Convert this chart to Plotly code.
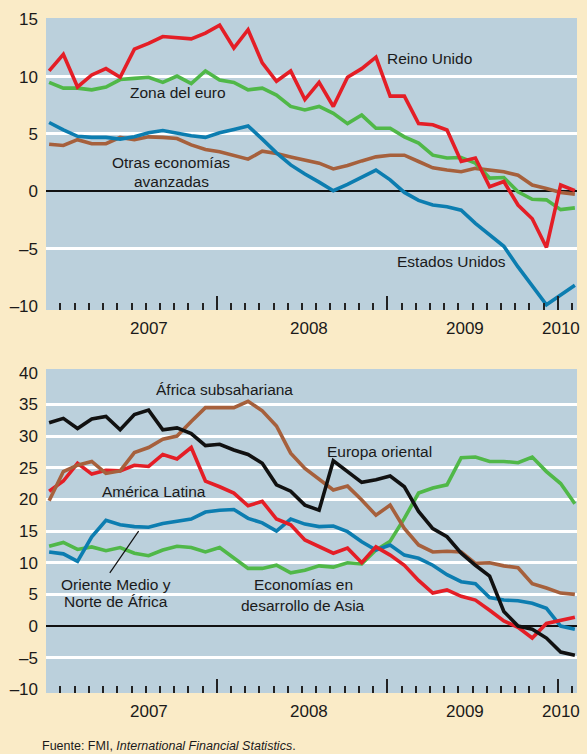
import plotly.graph_objects as go

# Monthly observations, Jan 2007 .. Feb 2010 (index 0..37)
months = list(range(38))

# --- Top panel: advanced economies ---
reino_unido = [10.5, 11.95, 9.1, 10.15, 10.7, 9.95, 12.4, 12.9, 13.5, 13.4, 13.3, 13.8,
               14.5, 12.5, 14.1, 11.2, 9.6, 10.5, 8.0, 9.5, 7.4, 9.95, 10.7, 11.7,
               8.3, 8.3, 5.9, 5.8, 5.35, 2.6, 2.9, 0.4, 0.85, -1.2, -2.4, -4.9, 0.55, 0.05]
zona_euro = [9.5, 9.0, 9.0, 8.85, 9.1, 9.75, 9.85, 9.95, 9.5, 10.05, 9.4, 10.5,
             9.7, 9.5, 8.85, 9.0, 8.4, 7.4, 7.1, 7.4, 6.8, 5.9, 6.65, 5.5,
             5.5, 4.75, 4.2, 3.15, 2.9, 2.95, 2.45, 1.15, 1.2, -0.05, -0.7, -0.75, -1.6, -1.45]
estados_unidos = [6.0, 5.35, 4.8, 4.7, 4.7, 4.55, 4.75, 5.1, 5.3, 5.05, 4.85, 4.7,
                  5.1, 5.4, 5.7, 4.55, 3.35, 2.3, 1.5, 0.8, 0.05, 0.6, 1.2, 1.85,
                  1.0, -0.1, -0.8, -1.2, -1.35, -1.65, -2.8, -3.8, -4.8, -6.6, -8.25, -9.9, -9.05, -8.2]
otras_avanzadas = [4.1, 4.0, 4.5, 4.15, 4.15, 4.7, 4.5, 4.75, 4.7, 4.6, 4.05, 3.65,
                   3.45, 3.1, 2.8, 3.5, 3.3, 3.0, 2.75, 2.45, 1.95, 2.25, 2.65, 3.0,
                   3.15, 3.15, 2.6, 2.05, 1.85, 1.7, 2.0, 1.85, 1.7, 1.4, 0.55, 0.25, -0.1, -0.25]

# --- Bottom panel: emerging economies ---
africa_subsahariana = [32.1, 32.8, 31.2, 32.7, 33.1, 31.0, 33.4, 34.1, 31.0, 31.3, 30.4, 28.5,
                       28.7, 27.8, 27.1, 25.7, 22.3, 21.3, 19.1, 18.3, 26.1, 24.4, 22.7, 23.1,
                       23.7, 22.0, 18.1, 15.4, 14.1, 11.5, 9.6, 7.9, 2.3, 0.0, -0.5, -1.9, -4.1, -4.6]
europa_oriental = [19.8, 24.4, 25.4, 26.0, 24.1, 24.5, 27.4, 28.2, 29.5, 30.0, 32.3, 34.5,
                   34.5, 34.5, 35.5, 34.0, 31.6, 27.3, 24.9, 23.2, 21.5, 22.1, 19.9, 17.5,
                   19.1, 15.4, 12.8, 11.7, 11.8, 11.7, 9.9, 10.0, 9.5, 9.2, 6.7, 6.0, 5.2, 5.0]
america_latina = [21.3, 22.9, 25.7, 24.0, 24.6, 24.5, 25.4, 25.2, 27.1, 26.4, 28.2, 22.9,
                  22.0, 21.0, 19.0, 19.7, 16.9, 16.0, 13.6, 12.5, 11.5, 12.3, 10.0, 12.5,
                  11.2, 9.6, 7.2, 5.2, 5.7, 4.7, 4.1, 2.5, 0.8, -0.2, -1.9, 0.4, 0.9, 1.4]
oriente_medio = [11.7, 11.4, 10.2, 14.1, 16.7, 16.0, 15.7, 15.6, 16.2, 16.5, 16.9, 18.0,
                 18.3, 18.4, 17.0, 16.3, 15.0, 16.9, 16.1, 15.7, 15.8, 14.9, 13.3, 12.0,
                 12.8, 11.2, 10.7, 9.6, 8.1, 7.0, 6.7, 4.5, 4.1, 4.0, 3.6, 2.8, 0.0, -0.5]
asia_desarrollo = [12.6, 13.2, 12.1, 12.5, 11.9, 12.4, 11.5, 11.1, 12.0, 12.6, 12.4, 11.7,
                   12.4, 10.7, 9.1, 9.1, 9.6, 8.4, 8.8, 9.5, 9.3, 10.0, 9.8, 12.0,
                   13.4, 17.0, 21.0, 21.8, 22.3, 26.6, 26.7, 26.0, 26.0, 25.8, 26.7, 24.4, 22.5, 19.3]

year_ticks = [-0.2, 11.8, 23.8, 35.8]
year_label_pos = [7.0, 18.3, 29.3, 36.0]
year_labels = ["2007", "2008", "2009", "2010"]

top_ticks = [-10, -5, 0, 5, 10, 15]
top_grid = [-5, 5, 10]
bot_ticks = [-10, -5, 0, 5, 10, 15, 20, 25, 30, 35, 40]
bot_grid = [-5, 5, 10, 15, 20, 25, 30, 35]

RED = "#E41E26"
GREEN = "#50B848"
BLUE = "#0C7DB0"
BROWN = "#A6603C"
BLACK = "#111111"
PAPER = "#FAEBC7"
PLOT = "#BBD0DC"
TXT = "#1a1a1a"
LABFONT = "Liberation Sans, Arial, sans-serif"
TICKFONT = "Liberation Sans, Arial, sans-serif"

fig = go.Figure()

def add(x, y, color, xa, ya):
    fig.add_trace(go.Scatter(x=x, y=y, mode="lines", line=dict(color=color, width=3.6),
                             xaxis=xa, yaxis=ya, showlegend=False, hoverinfo="skip"))

add(months, otras_avanzadas, BROWN, "x", "y")
add(months, estados_unidos, BLUE, "x", "y")
add(months, zona_euro, GREEN, "x", "y")
add(months, reino_unido, RED, "x", "y")

add(months, asia_desarrollo, GREEN, "x2", "y2")
add(months, oriente_medio, BLUE, "x2", "y2")
add(months, america_latina, RED, "x2", "y2")
add(months, europa_oriental, BROWN, "x2", "y2")
add(months, africa_subsahariana, BLACK, "x2", "y2")

H_BOT = 324
PLOT_H = 675
top_dom = [(PLOT_H - 310 + 18) / PLOT_H, 1.0]
bot_dom = [0.0, H_BOT / PLOT_H]

def xaxis(anchor):
    return dict(anchor=anchor, domain=[0, 1], range=[-0.22, 37.15], showgrid=False, zeroline=False,
                showline=False, tickmode="array", tickvals=year_ticks, ticks="inside", ticklen=14,
                tickwidth=1.8, tickcolor="#222", showticklabels=False,
                minor=dict(tick0=-0.2, dtick=1, ticks="inside", ticklen=7, tickwidth=2, tickcolor="#222"))

def yaxis(anchor, dom, rng, tv, grid):
    return dict(anchor=anchor, domain=dom, range=rng, tickmode="array", tickvals=tv,
                ticktext=[("\u2013" + str(-v)) if v < 0 else str(v) for v in tv],
                showgrid=False, zeroline=True, zerolinecolor="#111", zerolinewidth=1.5,
                ticks="", ticklabelstandoff=7, showline=False,
                tickfont=dict(family=TICKFONT, size=17, color=TXT),
                minor=dict(tickmode="array", tickvals=grid, showgrid=True, gridcolor="white",
                           gridwidth=2.5, ticks=""))

fig.update_layout(
    width=587, height=754,
    margin=dict(l=44, r=10, t=18, b=61),
    paper_bgcolor=PAPER, plot_bgcolor=PLOT,
    xaxis=xaxis("y"),
    yaxis=yaxis("x", top_dom, [-10.36, 15.12], top_ticks, top_grid),
    xaxis2=xaxis("y2"),
    yaxis2=yaxis("x2", bot_dom, [-10.58, 40.6], bot_ticks, bot_grid),
    showlegend=False,
)

anns = []
def lab(text, x, y, xr, yr, xanchor="center", size=15.5):
    anns.append(dict(text=text, x=x, y=y, xref=xr, yref=yr, xanchor=xanchor, yanchor="middle",
                     showarrow=False, font=dict(family=LABFONT, size=size, color=TXT)))

# top panel labels
lab("Reino Unido", 23.67, 11.63, "x", "y", "left")
lab("Zona del euro", 9.1, 8.66, "x", "y")
lab("Otras economías", 8.6, 2.47, "x", "y")
lab("avanzadas", 8.6, 0.81, "x", "y")
lab("Estados Unidos", 28.3, -6.17, "x", "y")

# bottom panel labels
lab("África subsahariana", 7.35, 37.3, "x2", "y2", "left")
lab("Europa oriental", 19.4, 27.5, "x2", "y2", "left")
lab("América Latina", 3.57, 21.3, "x2", "y2", "left")
lab("Oriente Medio y", 4.74, 6.6, "x2", "y2")
lab("Norte de África", 4.74, 3.8, "x2", "y2")
lab("Economías en", 17.9, 6.6, "x2", "y2")
lab("desarrollo de Asia", 17.9, 3.3, "x2", "y2")

for xp, t in zip(year_label_pos, year_labels):
    anns.append(dict(text=t, x=xp, y=-0.065, xref="x", yref="y domain", showarrow=False,
                     yanchor="middle", font=dict(family=TICKFONT, size=17, color=TXT)))
    anns.append(dict(text=t, x=xp, y=-0.056, xref="x2", yref="y2 domain", showarrow=False,
                     yanchor="middle", font=dict(family=TICKFONT, size=17, color=TXT)))

anns.append(dict(text="Fuente: FMI, <i>International Financial Statistics</i>.", x=-0.0113, y=-0.078,
                 xref="paper", yref="paper", xanchor="left", yanchor="middle", showarrow=False,
                 font=dict(family=LABFONT, size=12.5, color=TXT)))

fig.update_layout(annotations=anns)

# leader line for "Oriente Medio y Norte de África"
fig.add_shape(type="line", xref="x2", yref="y2", x0=6.3, y0=15.0, x1=4.27, y1=8.4,
              line=dict(color="#111", width=1.2))

fig.write_html("out.html", config={"displayModeBar": False},
               post_script="document.body.style.margin='0';document.body.style.overflow='hidden';")
